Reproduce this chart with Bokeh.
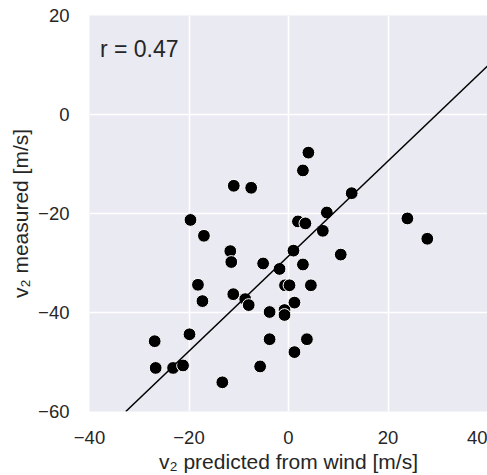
from bokeh.plotting import figure
from bokeh.models import ColumnDataSource, FixedTicker, CustomJSTickFormatter, Label, Slope, Range1d
from bokeh.embed import file_html
from bokeh.resources import INLINE

# data
x_pred = [4.0, 2.9, -11.0, -7.5, 12.7, 7.7, -19.7, 1.9, 3.4, 23.9,
          -17.0, 6.9, 27.9, -11.7, 1.0, 10.5, -11.5, -5.1, 2.9, -1.8,
          -18.2, -0.7, 0.2, 4.5, -11.1, -8.7, -8.0, -17.3, -3.8, 1.2,
          -0.8, -0.8, -26.9, -19.9, -3.8, 3.7, 1.2, -26.7, -23.2, -21.2,
          -5.7, -13.3]
y_meas = [-7.7, -11.3, -14.4, -14.8, -15.9, -19.8, -21.3, -21.6, -22.0, -21.0,
          -24.5, -23.5, -25.1, -27.6, -27.5, -28.3, -29.8, -30.1, -30.3, -31.2,
          -34.4, -34.5, -34.5, -34.5, -36.3, -37.3, -38.5, -37.7, -39.9, -38.0,
          -39.5, -40.5, -45.8, -44.4, -45.4, -45.4, -48.0, -51.2, -51.2, -50.7,
          -50.9, -54.1]
fit_slope = 0.96
fit_intercept = -28.6
r_value = 0.47
x_ticks = [-40, -20, 0, 20, 40]
y_ticks = [-60, -40, -20, 0, 20]

FONT = "Liberation Sans"
TXT = "#262626"

p = figure(width=487, height=475, output_backend="svg", toolbar_location=None,
           x_range=Range1d(-40, 40), y_range=Range1d(-60, 20),
           min_border_left=89, min_border_right=0, min_border_top=15, min_border_bottom=63)
p.background_fill_color = "#EAEAF2"
p.border_fill_color = "white"
p.outline_line_color = None

for ax, ticks in ((p.xaxis[0], x_ticks), (p.yaxis[0], y_ticks)):
    ax.ticker = FixedTicker(ticks=ticks)
    ax.formatter = CustomJSTickFormatter(code="return (tick < 0 ? '\u2212' : '') + Math.abs(tick);")
    ax.axis_line_color = None
    ax.major_tick_line_color = None
    ax.minor_tick_line_color = None
    ax.major_label_text_font = FONT
    ax.major_label_text_font_size = "18.5px"
    ax.major_label_text_color = TXT
    ax.axis_label_text_font = FONT
    ax.axis_label_text_font_size = "21px"
    ax.axis_label_text_font_style = "normal"
    ax.axis_label_text_color = TXT

p.xaxis.axis_label = "v\u2082 predicted from wind [m/s]"
p.yaxis.axis_label = "v\u2082 measured [m/s]"
p.xaxis.major_label_standoff = 13
p.yaxis.major_label_standoff = 14
p.xaxis.axis_label_standoff = 3
p.yaxis.axis_label_standoff = 3

p.grid.grid_line_color = "white"
p.grid.grid_line_width = 1.6
p.xgrid.ticker = FixedTicker(ticks=x_ticks)
p.ygrid.ticker = FixedTicker(ticks=y_ticks)

src = ColumnDataSource(dict(x=x_pred, y=y_meas))
p.scatter("x", "y", source=src, size=12.8, fill_color="black", line_color="white", line_width=1)

p.add_layout(Slope(gradient=fit_slope, y_intercept=fit_intercept, line_color="black", line_width=1.5))

p.add_layout(Label(x=-37.9, y=13.3, text=f"r = {r_value}", text_font=FONT, text_font_size="23px",
                   text_color=TXT, text_baseline="alphabetic"))

open("out.html", "w").write(file_html(p, INLINE))
